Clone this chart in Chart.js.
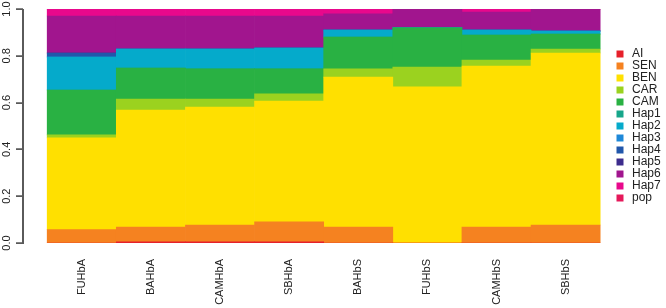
<!DOCTYPE html>
<html>
<head>
  <meta charset="utf-8">
  <title>Haplotype proportions</title>
  <script src="https://cdn.jsdelivr.net/npm/chart.js@4.4.0/dist/chart.umd.min.js"></script>
  <style>
    body { margin: 0; background: #fff; }
    #box { width: 666px; height: 308px; }
  </style>
</head>
<body>
  <div id="box"><canvas id="chart"></canvas></div>
  <script>
    // sample groups along the x axis
    const samples = ['FUHbA', 'BAHbA', 'CAMHbA', 'SBHbA', 'BAHbS', 'FUHbS', 'CAMHbS', 'SBHbS'];
    const yTicks = [0, 0.2, 0.4, 0.6, 0.8, 1.0];

    // ancestry proportions per group, stacked bottom to top
    const AI   = [0, 0.005, 0.005, 0.005, 0, 0, 0, 0];
    const SEN  = [0.057, 0.063, 0.072, 0.085, 0.068, 0, 0.068, 0.077];
    const BEN  = [0.392, 0.500, 0.504, 0.517, 0.641, 0.667, 0.688, 0.735];
    const CAR  = [0.013, 0.047, 0.034, 0.030, 0.035, 0.085, 0.026, 0.017];
    const CAM  = [0.192, 0.133, 0.129, 0.107, 0.136, 0.167, 0.107, 0.064];
    const Hap1 = [0, 0, 0, 0, 0, 0, 0, 0];
    const Hap2 = [0.141, 0.081, 0.085, 0.089, 0.030, 0, 0.021, 0.013];
    const Hap3 = [0, 0, 0, 0, 0, 0, 0, 0];
    const Hap4 = [0.017, 0, 0, 0, 0, 0, 0, 0];
    const Hap5 = [0, 0, 0, 0, 0, 0, 0, 0];
    const Hap6 = [0.158, 0.141, 0.141, 0.137, 0.069, 0.081, 0.077, 0.094];
    const Hap7 = [0.030, 0.030, 0.030, 0.030, 0.021, 0, 0.013, 0];
    const pop  = [0, 0, 0, 0, 0, 0, 0, 0];

    const series = [
      ['AI', AI, '#e6202a'],
      ['SEN', SEN, '#f58220'],
      ['BEN', BEN, '#ffe000'],
      ['CAR', CAR, '#9bd21f'],
      ['CAM', CAM, '#29b143'],
      ['Hap1', Hap1, '#17a68a'],
      ['Hap2', Hap2, '#05aacb'],
      ['Hap3', Hap3, '#1e88d8'],
      ['Hap4', Hap4, '#2157ab'],
      ['Hap5', Hap5, '#3d2c8d'],
      ['Hap6', Hap6, '#a1158e'],
      ['Hap7', Hap7, '#e8088c'],
      ['pop', pop, '#e5185a']
    ];

    const datasets = series.map(([name, vals, col]) => ({
      label: name,
      data: vals.map((v, i) => ({ x: i, y: v })),
      backgroundColor: col,
      borderWidth: 0,
      barPercentage: 1,
      categoryPercentage: 1,
      pointStyle: 'rect'
    }));

    const font = { family: 'Liberation Sans, Arial, sans-serif', size: 11 };

    // R style left axis: line from 0 to 1 with short outward ticks
    function drawAxis(chart) {
      const s = chart.scales.y;
      const ctx = chart.ctx;
      const x = Math.round(s.right) - 1;
      const top = Math.round(s.getPixelForValue(yTicks[yTicks.length - 1]));
      const bottom = Math.round(s.getPixelForValue(yTicks[0]));
      ctx.save();
      ctx.fillStyle = '#5a5a5a';
      ctx.fillRect(x, top, 2, bottom - top + 1);
      s.ticks.forEach(t => {
        const y = Math.round(s.getPixelForValue(t.value));
        ctx.fillRect(x - 6, y - 0.5, 7, 1.5);
      });
      ctx.restore();
    }
    const yAxisLine = {
      id: 'yAxisLine',
      afterDatasetsDraw: drawAxis,
      afterDraw: drawAxis
    };

    new Chart(document.getElementById('chart'), {
      type: 'bar',
      data: { datasets },
      plugins: [yAxisLine],
      options: {
        responsive: true,
        maintainAspectRatio: false,
        animation: false,
        layout: { padding: { top: 9, right: 0, left: 0, bottom: 0 } },
        plugins: {
          title: { display: false },
          tooltip: { enabled: false },
          legend: {
            position: 'right',
            fullSize: false,
            maxWidth: 52,
            labels: {
              usePointStyle: true,
              boxWidth: 12,
              boxHeight: 7,
              padding: 0,
              color: '#222',
              font: { family: 'Liberation Sans, Arial, sans-serif', size: 12 }
            }
          }
        },
        scales: {
          x: {
            type: 'linear',
            stacked: true,
            offset: false,
            min: -0.85,
            max: 7.7,
            border: { display: false },
            grid: { display: false, drawTicks: false },
            afterBuildTicks: s => { s.ticks = samples.map((c, i) => ({ value: i })); },
            afterFit: s => { s.height = 65; s.paddingLeft = 0; s.paddingRight = 0; },
            ticks: {
              autoSkip: false,
              minRotation: 90,
              maxRotation: 90,
              padding: 16,
              color: '#222',
              font,
              callback: v => samples[v]
            }
          },
          y: {
            stacked: true,
            min: 0,
            max: 1,
            border: { display: false },
            grid: { display: false, drawTicks: true, tickLength: 6 },
            afterBuildTicks: s => { s.ticks = yTicks.map(v => ({ value: v })); },
            afterFit: s => { s.width = 23; s.paddingTop = 0; s.paddingBottom = 0; },
            ticks: {
              minRotation: 90,
              maxRotation: 90,
              crossAlign: 'center',
              padding: 2,
              color: '#222',
              font,
              callback: v => v.toFixed(1)
            }
          }
        }
      }
    });
  </script>
</body>
</html>
